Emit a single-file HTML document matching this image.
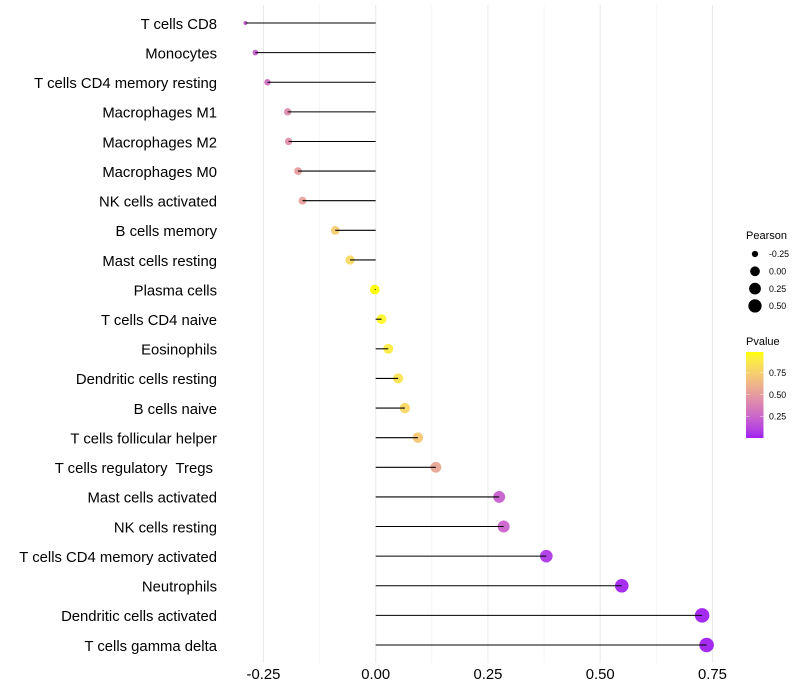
<!DOCTYPE html>
<html>
<head>
<meta charset="utf-8">
<title>Lollipop chart</title>
<style>
html,body{margin:0;padding:0;background:#fff;width:800px;height:700px;overflow:hidden}
svg{display:block}
text{font-family:"Liberation Sans",Arial,sans-serif;white-space:pre}
</style>
</head>
<body>
<svg id="chart" xmlns="http://www.w3.org/2000/svg" width="800" height="700" viewBox="0 0 800 700">
  <defs>
    <linearGradient id="pvalue-gradient" x1="0" y1="1" x2="0" y2="0"></linearGradient>
  </defs>
  <rect x="0" y="0" width="800" height="700" fill="#fff"/>
  <g id="grid"></g>
  <g id="points"></g>
  <g id="stems"></g>
  <g id="ylabels"></g>
  <g id="xlabels"></g>
  <g id="size-legend">
    <text x="746" y="239" font-size="11" fill="#000">Pearson</text>
  </g>
  <g id="color-legend">
    <text x="746" y="345" font-size="11" fill="#000">Pvalue</text>
    <rect x="746" y="352" width="17.5" height="86" fill="url(#pvalue-gradient)"/>
  </g>
</svg>
<script>
const categories = ["T cells CD8","Monocytes","T cells CD4 memory resting","Macrophages M1","Macrophages M2","Macrophages M0","NK cells activated","B cells memory","Mast cells resting","Plasma cells","T cells CD4 naive","Eosinophils","Dendritic cells resting","B cells naive","T cells follicular helper","T cells regulatory  Tregs ","Mast cells activated","NK cells resting","T cells CD4 memory activated","Neutrophils","Dendritic cells activated","T cells gamma delta"];
const pearson = [-0.29,-0.268,-0.241,-0.196,-0.194,-0.173,-0.163,-0.09,-0.057,-0.002,0.013,0.028,0.05,0.065,0.094,0.134,0.275,0.285,0.38,0.548,0.727,0.737];
const pvalue = [0.2,0.22,0.29,0.42,0.43,0.5,0.52,0.74,0.8,0.99,0.95,0.9,0.85,0.79,0.72,0.55,0.22,0.24,0.07,0.01,0.0,0.0];
const xTicks = [-0.25,0,0.25,0.5,0.75];
const xTickLabels = ["-0.25","0.00","0.25","0.50","0.75"];
const xMinorTicks = [-0.125,0.125,0.375,0.625];
const sizeLegendValues = [-0.25,0,0.25,0.5];
const sizeLegendLabels = ["-0.25","0.00","0.25","0.50"];
const colorLegendValues = [0.25,0.5,0.75];
const colorLegendLabels = ["0.25","0.50","0.75"];

const NS = "http://www.w3.org/2000/svg";
function make(tag, attrs, parent){
  const el = document.createElementNS(NS, tag);
  for (const k in attrs) el.setAttribute(k, attrs[k]);
  parent.appendChild(el);
  return el;
}
function xScale(v){ return 375.7 + v * 449; }
function yScale(i){ return 23 + i * (622 / (categories.length - 1)); }
const pearsonMin = Math.min.apply(null, pearson);
const pearsonMax = Math.max.apply(null, pearson);
function radius(v){
  const t = Math.max(0, Math.min(1, (v - pearsonMin) / (pearsonMax - pearsonMin)));
  return 2.1 + 5.2 * Math.sqrt(t);
}

function srgbToLab(c){
  const l = c.map(v => { v /= 255; return v <= 0.04045 ? v / 12.92 : Math.pow((v + 0.055) / 1.055, 2.4); });
  const X = (0.4124 * l[0] + 0.3576 * l[1] + 0.1805 * l[2]) / 0.95047;
  const Y = 0.2126 * l[0] + 0.7152 * l[1] + 0.0722 * l[2];
  const Z = (0.0193 * l[0] + 0.1192 * l[1] + 0.9505 * l[2]) / 1.08883;
  const f = t => t > 0.008856 ? Math.cbrt(t) : 7.787 * t + 16 / 116;
  return [116 * f(Y) - 16, 500 * (f(X) - f(Y)), 200 * (f(Y) - f(Z))];
}
function labToHex(L){
  const fy = (L[0] + 16) / 116, fx = fy + L[1] / 500, fz = fy - L[2] / 200;
  const g = t => t * t * t > 0.008856 ? t * t * t : (t - 16 / 116) / 7.787;
  const X = g(fx) * 0.95047, Y = g(fy), Z = g(fz) * 1.08883;
  const rgb = [
    3.2406 * X - 1.5372 * Y - 0.4986 * Z,
    -0.9689 * X + 1.8758 * Y + 0.0415 * Z,
    0.0557 * X - 0.2040 * Y + 1.0570 * Z
  ];
  return "#" + rgb.map(v => {
    v = Math.max(0, Math.min(1, v));
    v = v <= 0.0031308 ? 12.92 * v : 1.055 * Math.pow(v, 1 / 2.4) - 0.055;
    return Math.round(v * 255).toString(16).padStart(2, "0");
  }).join("");
}
const labLow = srgbToLab([160, 32, 240]);
const labHigh = srgbToLab([255, 255, 0]);
function colorScale(p){
  const t = Math.max(0, Math.min(1, p / 0.99));
  return labToHex(labLow.map((v, i) => v + (labHigh[i] - v) * t));
}

const grid = document.getElementById("grid");
xMinorTicks.forEach(v => {
  const el = make("line", {x1: xScale(v), x2: xScale(v), y1: 5, y2: 663, stroke: "#f0f0f0", "stroke-width": 0.6}, grid);
  
  
});
xTicks.forEach(v => {
  const el = make("line", {x1: xScale(v), x2: xScale(v), y1: 5, y2: 663, stroke: "#ebebeb", "stroke-width": 1.1}, grid);
  
  
});

const pointsG = document.getElementById("points");
const stemsG = document.getElementById("stems");
const ylabels = document.getElementById("ylabels");
categories.forEach((name, i) => {
  const y = yScale(i);
  const c = make("circle", {cx: xScale(pearson[i]), cy: y, r: radius(pearson[i]), fill: colorScale(pvalue[i]), "fill-opacity": 0.95}, pointsG);
  
  
  const s = make("line", {x1: xScale(0), x2: xScale(pearson[i]), y1: y, y2: y, stroke: "#000", "stroke-width": 1.07}, stemsG);
  
  
  const t = make("text", {x: 217, y: y + 5.8, "text-anchor": "end", "font-size": 14.85, fill: "#000"}, ylabels);
  
  
  t.textContent = name;
});

const xlabels = document.getElementById("xlabels");
xTicks.forEach((v, i) => {
  const t = make("text", {x: xScale(v), y: 679, "text-anchor": "middle", "font-size": 14.85, fill: "#000"}, xlabels);
  
  
  t.textContent = xTickLabels[i];
});

const sizeLegend = document.getElementById("size-legend");
sizeLegendValues.forEach((v, i) => {
  const y = 254 + i * 17.3;
  const c = make("circle", {cx: 755, cy: y, r: radius(v), fill: "#000"}, sizeLegend);
  
  
  const t = make("text", {x: 769, y: y + 3.2, "font-size": 8.8, fill: "#000"}, sizeLegend);
  
  
  t.textContent = sizeLegendLabels[i];
});

const grad = document.getElementById("pvalue-gradient");
for (let k = 0; k <= 20; k++) {
  make("stop", {offset: k / 20, "stop-color": colorScale(0.99 * k / 20)}, grad);
}
const colorLegend = document.getElementById("color-legend");
function barY(p){ return 438 - p * (86 / 0.99); }
colorLegendValues.forEach((v, i) => {
  const y = barY(v);
  const a = make("line", {x1: 746, x2: 749.5, y1: y, y2: y, stroke: "#fff", "stroke-opacity": 0.7, "stroke-width": 0.6}, colorLegend);
  
  
  const b = make("line", {x1: 760, x2: 763.5, y1: y, y2: y, stroke: "#fff", "stroke-opacity": 0.7, "stroke-width": 0.6}, colorLegend);
  
  
  const t = make("text", {x: 769, y: y + 3.2, "font-size": 8.8, fill: "#000"}, colorLegend);
  
  
  t.textContent = colorLegendLabels[i];
});
</script>
</body>
</html>
